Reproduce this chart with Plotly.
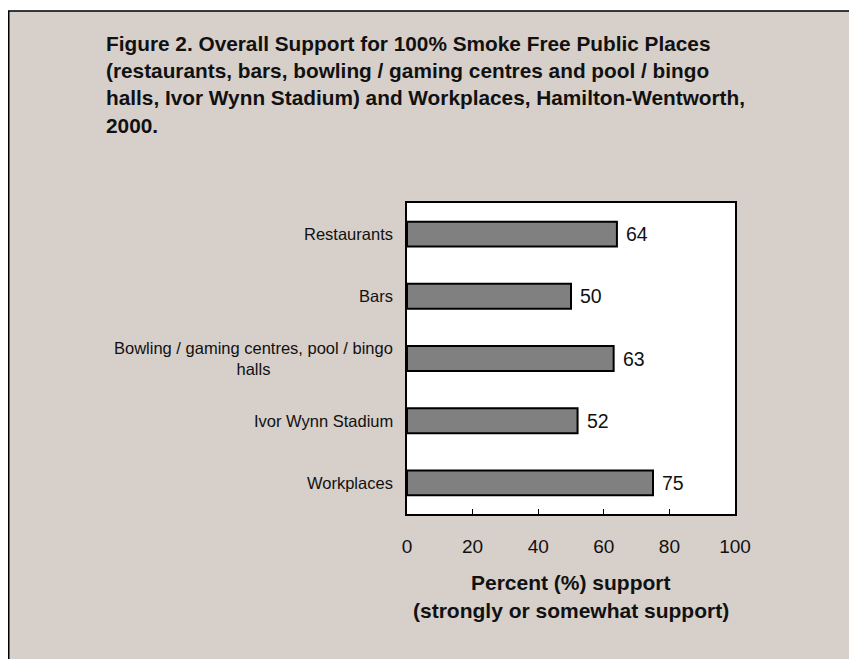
import plotly.graph_objects as go

categories = ["Restaurants", "Bars", "Bowling / gaming centres, pool / bingo<br>halls",
              "Ivor Wynn Stadium", "Workplaces"]
support = [64, 50, 63, 52, 75]
x_ticks = [0, 20, 40, 60, 80, 100]
title_lines = [
    "Figure 2. Overall Support for 100% Smoke Free Public Places",
    "(restaurants, bars, bowling / gaming centres and pool / bingo",
    "halls, Ivor Wynn Stadium) and Workplaces, Hamilton-Wentworth,",
    "2000.",
]
axis_title_lines = ["Percent (%) support", "(strongly or somewhat support)"]

W, H = 849, 659
# plot area in page pixels
PL, PR, PT, PB = 407, 735, 203, 514
PW, PH = PR - PL, PB - PT


def fx(px):  # page px -> paper x
    return (px - PL) / PW


def fy(py):  # page px -> paper y
    return (PB - py) / PH


BG = "#D7CFCA"
FONT = "Arial, Liberation Sans, sans-serif"

fig = go.Figure()
fig.add_trace(go.Bar(
    x=support, y=categories, orientation="h", width=0.4,
    marker=dict(color="#808080", line=dict(color="black", width=2)),
    hoverinfo="skip",
))

ann = []
for c in categories:
    ann.append(dict(x=fx(395), y=c, xref="paper", yref="y", text=c, showarrow=False,
                    xanchor="right", yanchor="middle", align="center",
                    font=dict(family=FONT, size=16.5, color="#111")))
for c, v in zip(categories, support):
    ann.append(dict(x=v, y=c, xref="x", yref="y", text=str(v), showarrow=False,
                    xanchor="left", yanchor="middle", xshift=7,
                    font=dict(family=FONT, size=19.5, color="#111")))
for t, yc in zip(title_lines, [43, 70, 97, 125]):
    ann.append(dict(x=fx(104), y=fy(yc), xref="paper", yref="paper", text="<b>%s</b>" % t,
                    showarrow=False, xanchor="left", yanchor="middle", align="left",
                    font=dict(family=FONT, size=20.8, color="#111")))
for t, yc in zip(axis_title_lines, [582, 610]):
    ann.append(dict(x=0.5, y=fy(yc), xref="paper", yref="paper", text="<b>%s</b>" % t,
                    showarrow=False, xanchor="center", yanchor="middle",
                    font=dict(family=FONT, size=21, color="#111")))

shapes = [
    dict(type="rect", xref="paper", yref="paper", x0=fx(0), x1=fx(W), y0=fy(10.5),
         y1=fy(0), fillcolor="white", line=dict(width=0), layer="below"),
    dict(type="rect", xref="paper", yref="paper", x0=fx(0), x1=fx(8), y0=fy(H),
         y1=fy(0), fillcolor="white", line=dict(width=0), layer="below"),
    dict(type="line", xref="paper", yref="paper", x0=fx(8), x1=fx(W), y0=fy(11), y1=fy(11),
         line=dict(color="black", width=1.5)),
    dict(type="line", xref="paper", yref="paper", x0=fx(8.75), x1=fx(8.75), y0=fy(11),
         y1=fy(H), line=dict(color="black", width=1.5)),
]

fig.update_layout(
    width=W, height=H,
    margin=dict(l=PL, r=W - PR, t=PT, b=H - PB, pad=0),
    paper_bgcolor=BG, plot_bgcolor="white",
    showlegend=False,
    annotations=ann, shapes=shapes,
    font=dict(family=FONT, color="#111"),
    xaxis=dict(range=[0, 100], tickvals=x_ticks, ticks="inside", ticklen=5, tickwidth=1,
               tickcolor="black", showgrid=False, zeroline=False, showline=True,
               linecolor="black", linewidth=2, mirror=True,
               tickfont=dict(family=FONT, size=19, color="#111"), ticklabelstandoff=14,
               fixedrange=True),
    yaxis=dict(type="category", categoryorder="array", categoryarray=categories,
               range=[4.5, -0.5], showticklabels=False, ticks="", showgrid=False,
               zeroline=False, showline=True, linecolor="black", linewidth=2, mirror=True,
               fixedrange=True),
)

fig.write_html(
    "out.html",
    config={"displayModeBar": False, "staticPlot": True},
    post_script="document.body.style.margin='0';"
                "document.documentElement.style.overflow='hidden';",
)
